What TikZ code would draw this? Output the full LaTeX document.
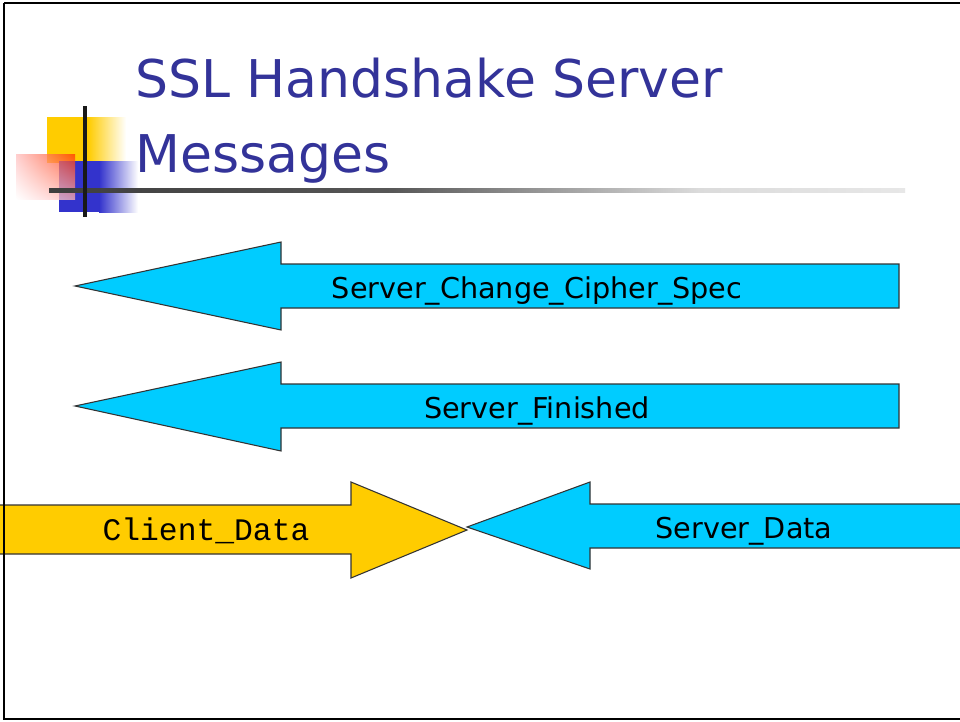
\documentclass[tikz,border=0pt]{standalone}
\usepackage{fontspec}
\setmainfont{DejaVu Sans}
\newfontfamily\monofont{Liberation Mono}
\usetikzlibrary{fadings,shadings}

\definecolor{titleblue}{HTML}{333399}
\definecolor{msgcyan}{HTML}{00CCFF}
\definecolor{msgyellow}{HTML}{FFCC00}
\definecolor{logoblue}{HTML}{3333CC}
\definecolor{logored}{HTML}{FF3300}
\definecolor{edgegray}{HTML}{333333}

\pgfdeclarehorizontalshading{rulefade}{100bp}{%
  color(0bp)=(black!88); color(45bp)=(black!66);
  color(63bp)=(black!14); color(100bp)=(white)}

\tikzset{
  msgarrow/.style={draw=edgegray, line width=0.8pt, line join=miter},
  msglabel/.style={anchor=base, inner sep=0pt, font=\fontsize{21.5pt}{24pt}\selectfont},
  titletext/.style={anchor=base west, inner sep=0pt, text=titleblue,
    font=\fontsize{39pt}{46pt}\selectfont},
}

\begin{document}
\begin{tikzpicture}[x=0.75pt, y=-0.75pt]
\useasboundingbox (0,0) rectangle (960,721);
\fill[white] (0,0) rectangle (960,721);

% ---- logo squares ----
\fill[msgyellow] (47,117) rectangle (88,163);
\shade[left color=msgyellow, right color=white] (88,117) rectangle (126,163);
\fill[logoblue] (59,161) rectangle (99,212);
\shade[left color=logoblue, right color=white] (99,161) rectangle (138,212);
\begin{scope}[opacity=0.75]
  \shade[upper right=logored, upper left=red!25, lower right=red!30, lower left=white]
    (16,154) rectangle (75,199);
\end{scope}

% ---- title rule and cross bar ----
\shade[shading=rulefade] (49,188) rectangle (905,192);
\fill[black!90] (83,106) rectangle (87,217);

% ---- title ----
\node[titletext] (title1) at (135,97) {SSL Handshake Server};
\node[titletext] (title2) at (135,172) {Messages};

% ---- message arrows ----
\path[msgarrow, fill=msgcyan] (75,286) -- (281,242) -- (281,264) -- (899,264)
  -- (899,308) -- (281,308) -- (281,330) -- cycle;
\node[msglabel] (ccs) at (537,298) {Server\_Change\_Cipher\_Spec};

\path[msgarrow, fill=msgcyan] (75,406) -- (281,362) -- (281,384) -- (899,384)
  -- (899,428) -- (281,428) -- (281,451) -- cycle;
\node[msglabel] (fin) at (537,418) {Server\_Finished};

\path[msgarrow, fill=msgyellow] (0,505) -- (351,505) -- (351,482) -- (467,530)
  -- (351,578) -- (351,554) -- (0,554);
\node[anchor=base, inner sep=0pt, font=\monofont\fontsize{23.5pt}{26pt}\selectfont]
  (cdata) at (206,540) {Client\_Data};

\path[msgarrow, fill=msgcyan] (467,527) -- (590,482) -- (590,504) -- (970,504)
  -- (970,548) -- (590,548) -- (590,569) -- cycle;
\node[msglabel] (sdata) at (744,538) {Server\_Data};

% ---- slide frame ----
\draw[black, line width=1.8pt] (4,3) -- (975,3);
\draw[black, line width=1.8pt] (4,3) -- (4,719) -- (975,719);
\end{tikzpicture}
\end{document}
